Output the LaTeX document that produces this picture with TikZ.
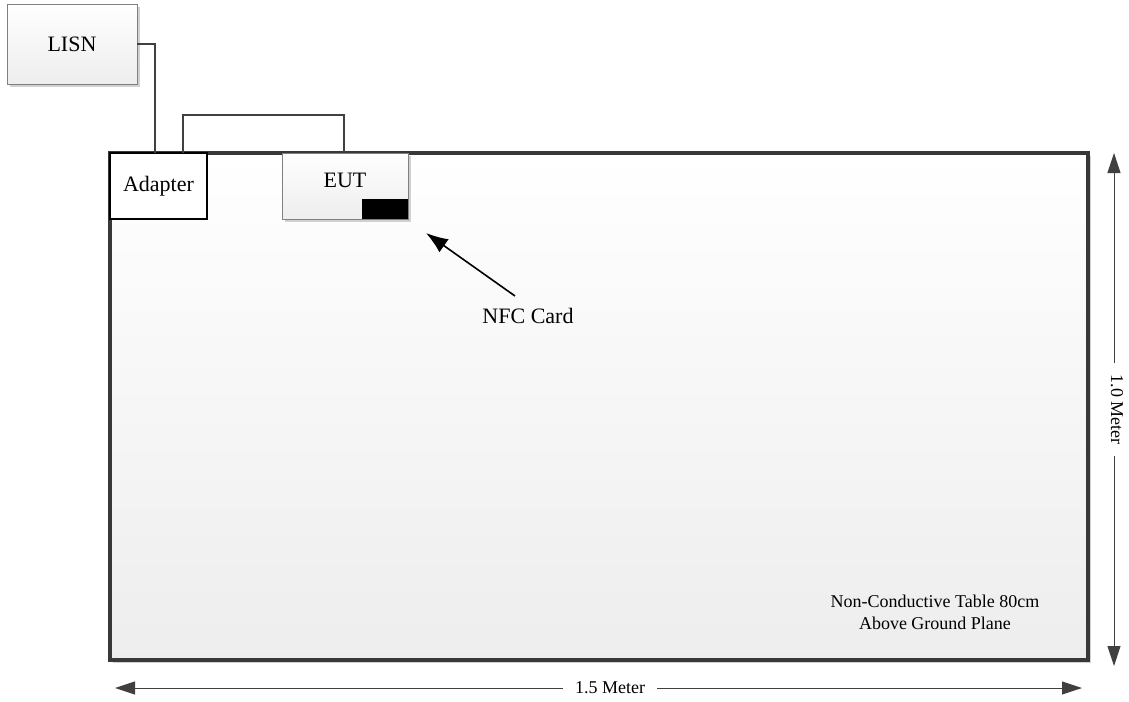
\documentclass[tikz,border=0pt]{standalone}
\usepackage{fontspec}
\setmainfont{Liberation Serif}
\usetikzlibrary{arrows.meta,shadows,positioning}

\tikzset{
  box/.style={draw=black!50,line width=0.8pt,top color=white,bottom color=black!7,
    drop shadow={shadow xshift=3pt,shadow yshift=-3pt,fill=black!18,opacity=1},
    font=\fontsize{22}{26}\selectfont,inner sep=0pt},
  cable/.style={draw=black!75,line width=1.8pt},
  dimline/.style={draw=black!75,line width=1pt,{Triangle[length=20pt,width=13pt]}-{Triangle[length=20pt,width=13pt]}},
  dimlabel/.style={fill=white,inner xsep=12pt,inner ysep=1pt,font=\fontsize{18}{21}\selectfont}
}

\begin{document}
\begin{tikzpicture}[x=1pt,y=-1pt]
  \useasboundingbox (0,0) rectangle (1129,701);

  % table
  \node[box,draw=black!78,line width=3.2pt,minimum width=978pt,minimum height=507pt] (table) at (599,406.5) {};
  \node[align=center,font=\fontsize{18}{22}\selectfont] (tablelabel) at (935,612) {Non-Conductive Table 80cm\\Above Ground Plane};

  % LISN, adapter, EUT
  \node[box,minimum width=130pt,minimum height=80pt] (lisn) at (72,44) {LISN};
  \node[draw=black,line width=1.6pt,fill=white,minimum width=97pt,minimum height=66pt,
    font=\fontsize{22}{26}\selectfont,inner sep=0pt] (adapter) at (158.5,186) {Adapter};
  \node[box,minimum width=126pt,minimum height=66pt] (eut) at (345,186) {};
  \node[font=\fontsize{22}{26}\selectfont] (euttext) at (345,180) {EUT};
  \node[fill=black,minimum width=46pt,minimum height=20pt,inner sep=0pt,anchor=south east] (nfc) at (eut.south east) {};

  % cables
  \coordinate (plugA) at (155,153);
  \coordinate (loopA) at (183,153);
  \coordinate (loopB) at (344,153);
  \draw[cable] (lisn.east) -| (plugA);
  \draw[cable] (loopA) |- (344,115) -- (loopB);

  % NFC card arrow
  \node[font=\fontsize{22}{26}\selectfont] (nfclabel) at (528,316) {NFC Card};
  \coordinate (tail) at (515,296);
  \coordinate (tip) at (426,233);
  \draw[line width=1.6pt,-{Latex[length=22pt,width=16pt]}] (tail) -- (tip);

  % dimensions
  \coordinate (vtop) at (1114,153);
  \coordinate (vbot) at (1114,666);
  \draw[dimline] (vtop) -- (vbot) node[midway,xshift=3pt,rotate=-90,dimlabel] (vlabel) {1.0 Meter};
  \coordinate (hleft) at (115,688);
  \coordinate (hright) at (1082,688);
  \draw[dimline] (hleft) -- (hright);
  \node[dimlabel] (hlabel) at (610,688) {1.5 Meter};
\end{tikzpicture}
\end{document}
